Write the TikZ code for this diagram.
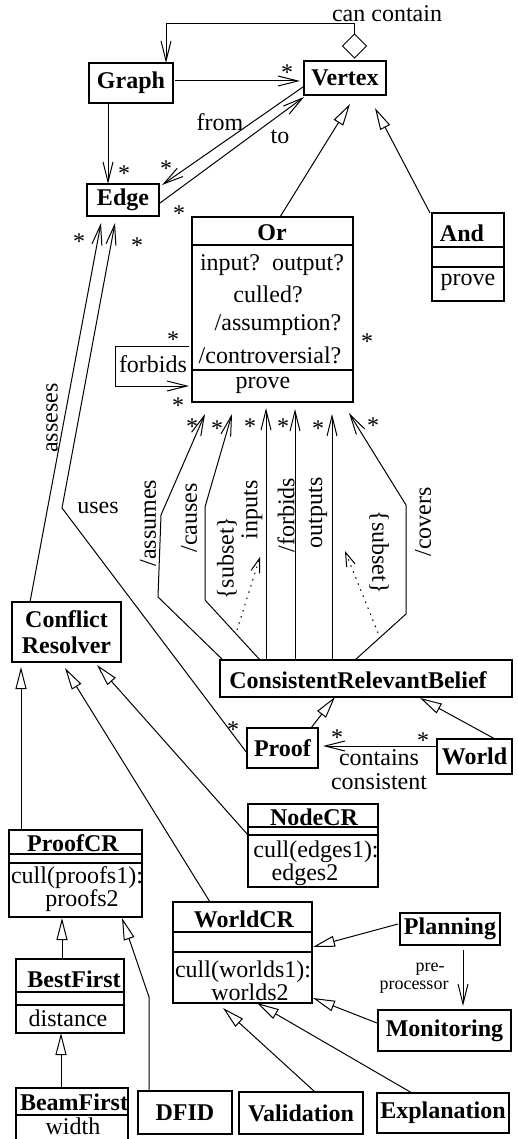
\documentclass[tikz,border=0pt]{standalone}
\usepackage{fontspec}
\setmainfont{Liberation Serif}
\usetikzlibrary{arrows.meta,shapes.geometric}
\begin{document}
\begin{tikzpicture}[x=1pt,y=-1pt,
  every node/.style={font=\fontsize{24}{26}\selectfont, inner sep=0pt, outer sep=0pt},
  box/.style={draw, line width=1.5pt, font=\fontsize{24}{26}\selectfont\bfseries},
  ttl/.style={font=\fontsize{24}{26}\selectfont\bfseries},
  smalltxt/.style={font=\fontsize{18}{20}\selectfont},
  star/.style={yshift=-4pt},
  assoc/.style={line width=1pt, -{Straight Barb[length=20pt,width=10pt]}},
  gen/.style={line width=1pt, -{Triangle[open,length=22pt,width=11pt]}},
  dep/.style={line width=1pt, dash pattern=on 1.5pt off 5pt, -{Straight Barb[length=14pt,width=9pt]}},
  sepline/.style={line width=1.5pt}
]
\useasboundingbox (0,0) rectangle (517,1139);

% ---------- boxes ----------
\node[box, minimum width=84pt, minimum height=40pt] (graph) at (131,83) {Graph};
\node[box, minimum width=82pt, minimum height=34pt] (vertex) at (345,78) {Vertex};
\node[draw, line width=1pt, shape=diamond, shape aspect=1, minimum size=24pt] (dia) at (354.5,46) {};
\node[box, minimum width=72pt, minimum height=32pt] (edge) at (123,200) {Edge};

\node[box, minimum width=161pt, minimum height=185pt] (or) at (272.5,309.5) {};
\node[ttl] (ortitle) at (272,233) {Or};
\draw[sepline] ([yshift=-28pt]or.north west) -- ([yshift=-28pt]or.north east);
\draw[sepline] ([yshift=-153pt]or.north west) -- ([yshift=-153pt]or.north east);
\node (orattr1) at (272,265) {input?~~output?};
\node (orattr2) at (268,294) {culled?};
\node (orattr3) at (278,325) {/assumption?};
\node (orattr4) at (270,355) {/controversial?};
\node (orop) at (263,385) {prove};

\node[box, minimum width=72pt, minimum height=88pt] (and) at (468,257) {};
\node[ttl] (andtitle) at (462,233) {And};
\draw[sepline] ([yshift=-34pt]and.north west) -- ([yshift=-34pt]and.north east);
\draw[sepline] ([yshift=-54pt]and.north west) -- ([yshift=-54pt]and.north east);
\node (andop) at (468,282) {prove};

\node[box, minimum width=292pt, minimum height=37pt] (crb) at (366,678.5) {};
\node[ttl] (crbtext) at (358,680) {ConsistentRelevantBelief};

\node[box, minimum width=109pt, minimum height=60pt, align=center] (cr) at (66.5,632) {Conflict\\Resolver};
\node[box, minimum width=71pt, minimum height=40pt] (proof) at (282.5,748) {Proof};
\node[box, minimum width=75pt, minimum height=35pt] (world) at (474.5,756.5) {World};

\node[box, minimum width=130pt, minimum height=83pt] (ncr) at (313,845.5) {};
\node[ttl] (ncrtitle) at (314,817) {NodeCR};
\draw[sepline] ([yshift=-23pt]ncr.north west) -- ([yshift=-23pt]ncr.north east);
\draw[sepline] ([yshift=-31pt]ncr.north west) -- ([yshift=-31pt]ncr.north east);
\node (ncrop1) at (316,852) {cull(edges1):};
\node (ncrop2) at (305,875) {edges2};

\node[box, minimum width=133pt, minimum height=87pt] (pcr) at (75.5,873.5) {};
\node[ttl] (pcrtitle) at (73,843) {ProofCR};
\draw[sepline] ([yshift=-24pt]pcr.north west) -- ([yshift=-24pt]pcr.north east);
\draw[sepline] ([yshift=-33pt]pcr.north west) -- ([yshift=-33pt]pcr.north east);
\node (pcrop1) at (77,878) {cull(proofs1):};
\node (pcrop2) at (82,901) {proofs2};

\node[box, minimum width=139pt, minimum height=101pt] (wcr) at (242.5,952.5) {};
\node[ttl] (wcrtitle) at (244,919) {WorldCR};
\draw[sepline] ([yshift=-30pt]wcr.north west) -- ([yshift=-30pt]wcr.north east);
\draw[sepline] ([yshift=-50pt]wcr.north west) -- ([yshift=-50pt]wcr.north east);
\node (wcrop1) at (243,972) {cull(worlds1):};
\node (wcrop2) at (250,992) {worlds2};

\node[box, minimum width=100pt, minimum height=32pt] (planning) at (450,929) {Planning};
\node[box, minimum width=133pt, minimum height=41pt] (mon) at (444.5,1030.5) {Monitoring};

\node[box, minimum width=108pt, minimum height=74pt] (bf) at (70,996) {};
\node[ttl] (bftitle) at (74,979) {BestFirst};
\draw[sepline] ([yshift=-33pt]bf.north west) -- ([yshift=-33pt]bf.north east);
\draw[sepline] ([yshift=-46pt]bf.north west) -- ([yshift=-46pt]bf.north east);
\node (bfattr) at (68,1018) {distance};

\node[box, minimum width=112pt, minimum height=54pt] (bmf) at (72,1115) {};
\node[ttl] (bmftitle) at (74,1102) {BeamFirst};
\draw[sepline] ([yshift=-27pt]bmf.north west) -- ([yshift=-27pt]bmf.north east);
\node (bmfattr) at (73,1126) {width};

\node[box, minimum width=94pt, minimum height=43pt] (dfid) at (185,1112.5) {DFID};
\node[box, minimum width=124pt, minimum height=42pt] (val) at (301,1113) {Validation};
\node[box, minimum width=132pt, minimum height=40pt] (exp) at (443,1113) {Explanation};

% ---------- top associations ----------
\coordinate (ccbend) at (166,24);
\draw[assoc] (dia.north) |- (ccbend) -- ([xshift=77pt]graph.north west);
\node (cantxt) at (387,14) {can contain};

\draw[assoc] ([xshift=2pt,yshift=2pt]graph.east) -- ([xshift=-4pt,yshift=-3pt]vertex.west);
\draw[assoc] ([xshift=19pt]graph.south west) -- ([xshift=21pt]edge.north west);
\draw[assoc] ([xshift=-1pt,yshift=-9pt]vertex.west) -- ([xshift=3pt,yshift=-1pt]edge.north east);
\draw[assoc] ([xshift=1pt,yshift=-3pt]edge.east) -- ([yshift=-2pt]vertex.south west);
\node (lfrom) at (220,122) {from};
\node (lto) at (280,137) {to};

\draw[gen] ([xshift=7.5pt]or.north) -- ([xshift=5pt,yshift=-9pt]vertex.south);
\draw[gen] ([xshift=-2pt]and.north west) -- ([xshift=30pt,yshift=-13pt]vertex.south);

% forbids self loop
\draw[assoc] ([xshift=-3pt,yshift=-129pt]or.north west) -- ++(-74,0) |- ([xshift=-3pt,yshift=-169pt]or.north west);
\node (lforbidsloop) at (153,364) {forbids};

% Conflict resolver / Proof to Edge
\draw[assoc] ([xshift=18pt]cr.north west) -- ([xshift=-22pt,yshift=-7pt]edge.south);
\node[rotate=90] (lasseses) at (52,418) {asseses};
\coordinate (usesbend) at (62,508);
\draw[assoc] ([yshift=-5pt]proof.west) -- (usesbend) -- ([xshift=-8pt,yshift=-7pt]edge.south);
\node (luses) at (98,508) {uses};

% CRB to Or
\coordinate (a1) at (161,515); \coordinate (a2) at (158,597);
\draw[assoc] ([xshift=3pt]crb.north west) -- (a2) -- (a1) -- ([xshift=13pt,yshift=-12pt]or.south west);
\coordinate (c1) at (205,507); \coordinate (c2) at (205,600);
\draw[assoc] ([xshift=40pt]crb.north west) -- (c2) -- (c1) -- ([xshift=40pt,yshift=-12pt]or.south west);
\draw[assoc] ([xshift=46pt]crb.north west) -- ([xshift=74pt,yshift=-6pt]or.south west);
\draw[assoc] ([xshift=75pt]crb.north west) -- ([xshift=103pt,yshift=-7pt]or.south west);
\draw[assoc] ([xshift=112pt]crb.north west) -- ([xshift=140pt,yshift=-12pt]or.south west);
\coordinate (v1) at (406,505); \coordinate (v2) at (406,614);
\draw[assoc] ([xshift=135pt]crb.north west) -- (v2) -- (v1) -- ([xshift=157pt,yshift=-11pt]or.south west);

\coordinate (d1s) at (237,630); \coordinate (d1e) at (260,557);
\draw[dep] (d1s) -- (d1e);
\coordinate (d2s) at (378,633); \coordinate (d2e) at (345,551);
\draw[dep] (d2s) -- (d2e);

\node[rotate=90] (lassumes) at (148,523) {/assumes};
\node[rotate=90] (lcauses) at (189,518) {/causes};
\node[rotate=90] (lsubset1) at (227,558) {\{subset\}};
\node[rotate=90] (linputs) at (252,510) {inputs};
\node[rotate=90] (lforbids) at (286,515) {/forbids};
\node[rotate=90] (loutputs) at (318,513) {outputs};
\node[rotate=-90] (lsubset2) at (379,552) {\{subset\}};
\node[rotate=90] (lcovers) at (423,522) {/covers};

% CRB subclasses
\draw[gen] ([xshift=64pt]proof.north west) -- ([xshift=115pt]crb.south west);
\draw[gen] ([xshift=58pt]world.north west) -- ([xshift=200pt,yshift=-1pt]crb.south west);
\draw[assoc] ([yshift=10.5pt]world.west) -- ([xshift=5pt,yshift=2pt]proof.east);
\node (lcontains) at (379,758) {contains};
\node (lconsistent) at (379,782) {consistent};

% Conflict resolver subclasses
\draw[gen] ([xshift=12pt]pcr.north west) -- ([xshift=9pt,yshift=-5pt]cr.south west);
\draw[gen] ([xshift=37pt]wcr.north west) -- ([xshift=53pt,yshift=-6pt]cr.south west);
\draw[gen] ([yshift=-31pt]ncr.north west) -- ([xshift=85pt,yshift=-3pt]cr.south west);

% ProofCR subclasses
\draw[gen] ([xshift=46pt]bf.north west) -- ([xshift=53pt,yshift=-1pt]pcr.south west);
\coordinate (dfidbend) at (149,997);
\draw[gen] ([xshift=11pt]dfid.north west) -- (dfidbend) -- ([xshift=113pt,yshift=-1pt]pcr.south west);
\draw[gen] ([xshift=45pt]bmf.north west) -- ([xshift=45pt]bf.south west);

% WorldCR subclasses
\draw[gen] ([xshift=-2pt,yshift=5pt]planning.west) -- ([xshift=140pt,yshift=-45pt]wcr.north west);
\draw[gen] ([xshift=-1pt,yshift=7.5pt]mon.west) -- ([xshift=140pt,yshift=-96pt]wcr.north west);
\draw[gen] ([xshift=76pt]val.north west) -- ([xshift=50pt,yshift=-5pt]wcr.south west);
\draw[gen] ([xshift=35pt]exp.north west) -- ([xshift=84pt]wcr.south west);

\draw[assoc] ([xshift=13pt,yshift=-5pt]planning.south) -- ([xshift=18.5pt,yshift=4pt]mon.north);
\node[smalltxt] (lpre) at (430,969) {pre-};
\node[smalltxt] (lproc) at (414,987) {processor};

% ---------- multiplicities ----------
\node[star] (s1) at (287,69) {*};
\node[star] (s2) at (124,170) {*};
\node[star] (s3) at (166,165) {*};
\node[star] (s4) at (179,210) {*};
\node[star] (s5) at (79,238) {*};
\node[star] (s6) at (137,242) {*};
\node[star] (s7) at (173,336) {*};
\node[star] (s8) at (178,402) {*};
\node[star] (s9) at (367,338) {*};
\node[star] (s10) at (192,423) {*};
\node[star] (s11) at (217,425) {*};
\node[star] (s12) at (250,423) {*};
\node[star] (s13) at (283,423) {*};
\node[star] (s14) at (318,425) {*};
\node[star] (s15) at (373,422) {*};
\node[star] (s16) at (233,726) {*};
\node[star] (s17) at (337,734) {*};
\node[star] (s18) at (423,737) {*};
\end{tikzpicture}
\end{document}
